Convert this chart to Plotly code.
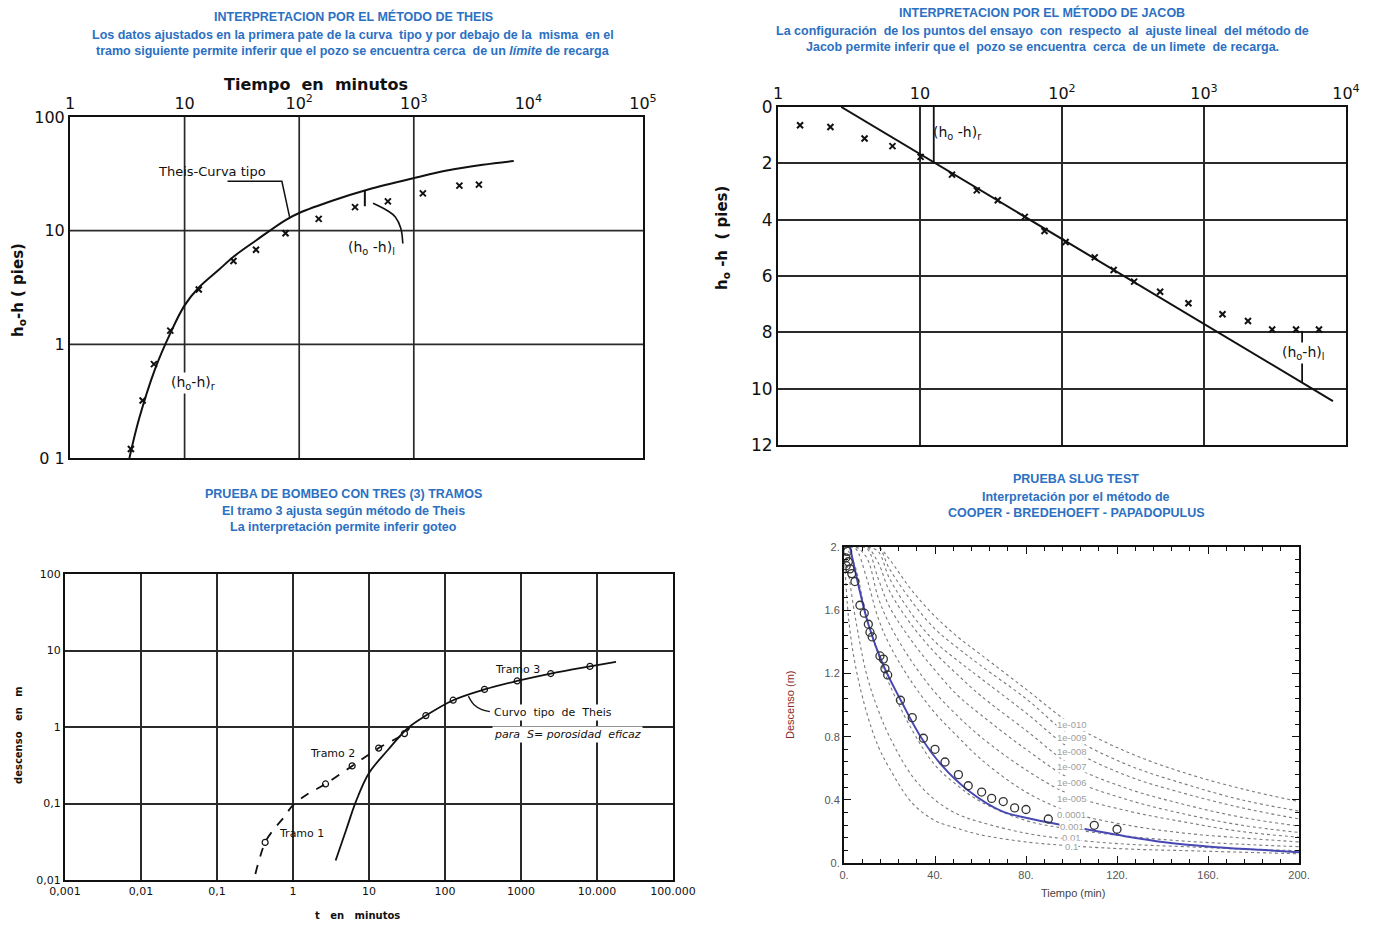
import math
import plotly.graph_objects as go

W, H = 1376, 927

# ---------------- Panel 1: Theis ----------------
theis_obs_t = [3.4, 4.3, 5.4, 7.5, 13.3, 26.7, 42, 76, 148, 307, 594, 1200, 2500, 3700]
theis_obs_s = [0.12, 0.32, 0.67, 1.32, 3.04, 5.4, 6.8, 9.5, 12.7, 16.1, 18.1, 21.3, 24.9, 25.4]
theis_curve_t = [3.3, 4.0, 5.5, 7.5, 10, 13.3, 20, 26.7, 42, 76, 100, 200, 400, 1000, 2000, 4000, 7450]
theis_curve_s = [0.1, 0.22, 0.6, 1.25, 2.2, 3.16, 4.55, 5.9, 8.2, 12.4, 14.3, 18.5, 23, 29, 34, 38, 41]
theis_xticks = [1, 10, 100, 1000, 10000, 100000]
theis_xtext = ['1', '10', '10<sup>2</sup>', '10<sup>3</sup>', '10<sup>4</sup>', '10<sup>5</sup>']
theis_yticks = [0.1, 1, 10, 100]
theis_ytext = ['0 1', '1', '10', '100']
theis_grid_t = [10, 100, 1000]
theis_grid_s = [1, 10]
theis_leader_t = [23.7, 70.6, 82.4]
theis_leader_s = [27.2, 27.2, 13.2]
theis_arrow_t = [802, 770, 690, 595, 441]
theis_arrow_s = [7.7, 10.5, 13.2, 14.9, 17.4]
theis_diff_t = [374, 374]
theis_diff_s = [22.5, 16.4]

# ---------------- Panel 2: Jacob ----------------
jacob_obs_t = [1.43, 2.34, 4.07, 6.4, 10.1, 16.8, 25.1, 35.3, 54.7, 75.3, 106, 170, 231, 322,
               491, 777, 1350, 2040, 3020, 4450, 6450]
jacob_obs_s = [0.65, 0.71, 1.12, 1.39, 1.77, 2.40, 2.96, 3.31, 3.9, 4.4, 4.79, 5.34, 5.79, 6.2,
               6.56, 6.97, 7.36, 7.6, 7.9, 7.9, 7.9]
jacob_fit_t = [2.79, 8090]
jacob_fit_s = [0, 10.44]
jacob_xticks = [1, 10, 100, 1000, 10000]
jacob_xtext = ['1', '10', '10<sup>2</sup>', '10<sup>3</sup>', '10<sup>4</sup>']
jacob_yticks = [0, 2, 4, 6, 8, 10, 12]
jacob_diff_r_t = [12.5, 12.5]
jacob_diff_r_s = [0, 2.0]
jacob_diff_l_t = [4910, 4910]
jacob_diff_l_s = [7.95, 9.79]

# ---------------- Panel 3: Bombeo (tres tramos) ----------------
bombeo_obs_t = [0.43, 2.68, 6.0, 13.4, 29.3, 56, 128, 331, 890, 2460, 8070]
bombeo_obs_s = [0.031, 0.18, 0.31, 0.53, 0.82, 1.41, 2.24, 3.1, 4.0, 5.0, 6.2]
bombeo_dash_t = [0.32, 0.43, 0.55, 0.75, 1.0, 1.6, 2.68, 6.0, 13.4, 29.3, 34]
bombeo_dash_s = [0.012, 0.031, 0.045, 0.065, 0.095, 0.135, 0.18, 0.31, 0.53, 0.82, 0.97]
bombeo_theis_t = [3.64, 5.0, 6.7, 10, 17.7, 32.5, 56, 128, 331, 890, 2460, 8070, 17800]
bombeo_theis_s = [0.018, 0.045, 0.105, 0.25, 0.50, 0.97, 1.41, 2.24, 3.1, 4.0, 5.0, 6.2, 7.1]
bombeo_leader_t = [203, 239, 305, 389]
bombeo_leader_s = [2.53, 1.97, 1.69, 1.59]
bombeo_xticks = [0.001, 0.01, 0.1, 1, 10, 100, 1000, 10000, 100000]
bombeo_xtext = ['0,001', '0,01', '0,1', '1', '10', '100', '1000', '10.000', '100.000']
bombeo_yticks = [0.01, 0.1, 1, 10, 100]
bombeo_ytext = ['0,01', '0,1', '1', '10', '100']

# ---------------- Panel 4: Slug test ----------------
slug_obs_t = [0.8, 1.0, 1.6, 1.9, 2.6, 3.4, 4.8, 7.0, 8.9, 10.7, 11.4, 12.4, 15.8, 17.3, 18.0,
              19.2, 24.8, 30, 34.9, 40, 44.4, 50.3, 54.6, 60.5, 64.9, 70, 75, 80, 89.8, 100.8,
              110, 120]
slug_obs_s = [1.93, 1.88, 1.97, 1.905, 1.86, 1.83, 1.78, 1.63, 1.58, 1.51, 1.46, 1.43, 1.31,
              1.29, 1.23, 1.19, 1.03, 0.92, 0.79, 0.72, 0.64, 0.56, 0.49, 0.45, 0.41, 0.39,
              0.35, 0.34, 0.28, 0.26, 0.24, 0.215]
slug_fit_t = [2.6, 6.3, 10.7, 17.3, 25.3, 34.1, 42.9, 54.6, 69.3, 84, 98.6, 110, 124, 140, 161,
              183, 200]
slug_fit_s = [2.0, 1.76, 1.51, 1.25, 1.02, 0.79, 0.62, 0.46, 0.33, 0.275, 0.235, 0.205, 0.17,
              0.135, 0.105, 0.085, 0.07]
type_t = [0, 2, 5, 10, 15, 20, 30, 40, 50, 60, 80, 100, 125, 150, 175, 200]
type_names = ['1e-010', '1e-009', '1e-008', '1e-007', '1e-006', '1e-005', '0.0001', '0.001',
              '0.01', '0.1']
type_1e10 = [2.0, 2.0, 2.0, 2.0, 2.0, 1.92, 1.72, 1.56, 1.43, 1.32, 1.10, 0.88, 0.70, 0.57, 0.47, 0.39]
type_1e9 = [2.0, 2.0, 2.0, 2.0, 2.0, 1.86, 1.65, 1.48, 1.36, 1.25, 1.04, 0.80, 0.62, 0.50, 0.40, 0.33]
type_1e8 = [2.0, 2.0, 2.0, 2.0, 1.97, 1.80, 1.57, 1.40, 1.28, 1.17, 0.95, 0.72, 0.55, 0.44, 0.35, 0.28]
type_1e7 = [2.0, 2.0, 2.0, 2.0, 1.90, 1.72, 1.50, 1.33, 1.19, 1.06, 0.84, 0.62, 0.47, 0.37, 0.29, 0.235]
type_1e6 = [2.0, 2.0, 2.0, 1.99, 1.80, 1.62, 1.40, 1.22, 1.06, 0.94, 0.72, 0.53, 0.40, 0.31, 0.24, 0.195]
type_1e5 = [2.0, 2.0, 2.0, 1.93, 1.68, 1.51, 1.27, 1.08, 0.93, 0.80, 0.59, 0.43, 0.33, 0.26, 0.20, 0.165]
type_1e4 = [2.0, 2.0, 1.99, 1.80, 1.55, 1.38, 1.14, 0.95, 0.80, 0.66, 0.45, 0.32, 0.24, 0.19, 0.16, 0.135]
type_1e3 = [2.0, 1.97, 1.87, 1.55, 1.32, 1.13, 0.84, 0.62, 0.49, 0.39, 0.27, 0.215, 0.17, 0.14, 0.12, 0.105]
type_1e2 = [2.0, 1.83, 1.55, 1.19, 0.97, 0.80, 0.55, 0.40, 0.31, 0.26, 0.19, 0.15, 0.12, 0.105, 0.09, 0.08]
type_1e1 = [2.0, 1.55, 1.25, 0.95, 0.74, 0.60, 0.38, 0.27, 0.22, 0.18, 0.135, 0.11, 0.09, 0.08, 0.07, 0.06]
type_label_t = 100
type_label_s = [0.874, 0.796, 0.705, 0.61, 0.51, 0.41, 0.31, 0.23, 0.165, 0.105]
slug_xticks = [0, 40, 80, 120, 160, 200]
slug_xtext = ['0.', '40.', '80.', '120.', '160.', '200.']
slug_yticks = [0, 0.4, 0.8, 1.2, 1.6, 2.0]
slug_ytext = ['0.', '0.4', '0.8', '1.2', '1.6', '2.']

# ---------------- styling ----------------
BLUE = '#2c70c2'
TFONT = 'Liberation Sans, Arial, sans-serif'
HFONT = 'DejaVu Sans, Liberation Sans, sans-serif'
INK = '#111111'
GRID = '#2a2a2a'


def px(x):
    return x / W


def py(y):
    return 1 - y / H


fig = go.Figure()

# Panel 1 gridlines
gx, gy = [], []
for t in theis_grid_t:
    gx += [t, t, None]
    gy += [theis_yticks[0], theis_yticks[-1], None]
for s in theis_grid_s:
    gx += [theis_xticks[0], theis_xticks[-1], None]
    gy += [s, s, None]
fig.add_trace(go.Scatter(x=gx, y=gy, mode='lines', line=dict(color=GRID, width=1.7),
                         xaxis='x', yaxis='y', hoverinfo='skip'))
fig.add_trace(go.Scatter(x=theis_curve_t, y=theis_curve_s, mode='lines',
                         line=dict(color=INK, width=2, shape='spline'), xaxis='x', yaxis='y'))
fig.add_trace(go.Scatter(x=theis_obs_t, y=theis_obs_s, mode='markers',
                         marker=dict(symbol='x-thin', size=6, line=dict(color=INK, width=2)),
                         xaxis='x', yaxis='y'))
fig.add_trace(go.Scatter(x=theis_leader_t, y=theis_leader_s, mode='lines',
                         line=dict(color=INK, width=1.5), xaxis='x', yaxis='y'))
fig.add_trace(go.Scatter(x=theis_arrow_t, y=theis_arrow_s, mode='lines',
                         line=dict(color=INK, width=1.6, shape='spline'), xaxis='x', yaxis='y'))
fig.add_trace(go.Scatter(x=theis_diff_t, y=theis_diff_s, mode='lines',
                         line=dict(color=INK, width=2), xaxis='x', yaxis='y'))

# Panel 2
fig.add_trace(go.Scatter(x=jacob_fit_t, y=jacob_fit_s, mode='lines',
                         line=dict(color=INK, width=2), xaxis='x2', yaxis='y2'))
fig.add_trace(go.Scatter(x=jacob_obs_t, y=jacob_obs_s, mode='markers',
                         marker=dict(symbol='x-thin', size=6, line=dict(color=INK, width=2)),
                         xaxis='x2', yaxis='y2'))
fig.add_trace(go.Scatter(x=jacob_diff_r_t, y=jacob_diff_r_s, mode='lines',
                         line=dict(color=INK, width=1.8), xaxis='x2', yaxis='y2'))
fig.add_trace(go.Scatter(x=jacob_diff_l_t, y=jacob_diff_l_s, mode='lines',
                         line=dict(color=INK, width=1.8), xaxis='x2', yaxis='y2'))

# Panel 3
fig.add_trace(go.Scatter(x=bombeo_dash_t, y=bombeo_dash_s, mode='lines',
                         line=dict(color=INK, width=1.8, dash='dash', shape='spline'),
                         xaxis='x3', yaxis='y3'))
fig.add_trace(go.Scatter(x=bombeo_theis_t, y=bombeo_theis_s, mode='lines',
                         line=dict(color=INK, width=1.8, shape='spline'), xaxis='x3', yaxis='y3'))
fig.add_trace(go.Scatter(x=bombeo_obs_t, y=bombeo_obs_s, mode='markers',
                         marker=dict(symbol='circle-open', size=6, color=INK, line=dict(width=1.2)),
                         xaxis='x3', yaxis='y3'))
fig.add_trace(go.Scatter(x=bombeo_leader_t, y=bombeo_leader_s, mode='lines',
                         line=dict(color=INK, width=1.3, shape='spline'), xaxis='x3', yaxis='y3'))

# Panel 4
type_curves = [type_1e10, type_1e9, type_1e8, type_1e7, type_1e6, type_1e5, type_1e4,
               type_1e3, type_1e2, type_1e1]
for name, vals in zip(type_names, type_curves):
    fig.add_trace(go.Scatter(x=type_t, y=vals, mode='lines', name=name,
                             line=dict(color='#7a7a7a', width=1.1, dash='dot', shape='spline'),
                             xaxis='x4', yaxis='y4'))
fig.add_trace(go.Scatter(x=slug_fit_t, y=slug_fit_s, mode='lines',
                         line=dict(color='#4848b4', width=2, shape='spline'), xaxis='x4', yaxis='y4'))
fig.add_trace(go.Scatter(x=slug_obs_t, y=slug_obs_s, mode='markers',
                         marker=dict(symbol='circle-open', size=8, color='#333333',
                                     line=dict(width=1.3)),
                         xaxis='x4', yaxis='y4'))

frame = dict(showline=True, mirror=True, linecolor=INK, linewidth=2, zeroline=False,
             automargin=False)

layout = dict(
    width=W, height=H, margin=dict(l=0, r=0, t=0, b=0, autoexpand=False),
    paper_bgcolor='white', plot_bgcolor='white', showlegend=False,
    xaxis=dict(domain=[px(70), px(643)], anchor='y', type='log', range=[0, 5], side='top',
               tickvals=theis_xticks, ticktext=theis_xtext, showgrid=False, ticks='',
               tickfont=dict(family=HFONT, size=16, color=INK), **frame),
    yaxis=dict(domain=[py(458), py(117)], anchor='x', type='log', range=[-1, 2],
               tickvals=theis_yticks, ticktext=theis_ytext, showgrid=False, ticks='',
               tickfont=dict(family=HFONT, size=16, color=INK), **frame),
    xaxis2=dict(domain=[px(778), px(1346)], anchor='y2', type='log', range=[0, 4], side='top',
                tickvals=jacob_xticks, ticktext=jacob_xtext, showgrid=True, gridcolor=GRID,
                gridwidth=1.7, ticks='', tickfont=dict(family=HFONT, size=16, color=INK), **frame),
    yaxis2=dict(domain=[py(445), py(107)], anchor='x2', range=[12, 0], tickvals=jacob_yticks,
                showgrid=True, gridcolor=GRID, gridwidth=1.7, ticks='',
                tickfont=dict(family=HFONT, size=17, color=INK), **frame),
    xaxis3=dict(domain=[px(65), px(673)], anchor='y3', type='log', range=[-3, 5],
                tickvals=bombeo_xticks, ticktext=bombeo_xtext, showgrid=True, gridcolor=GRID,
                gridwidth=1.8, ticks='', tickfont=dict(family=HFONT, size=11, color=INK), **frame),
    yaxis3=dict(domain=[py(880), py(574)], anchor='x3', type='log', range=[-2, 2],
                tickvals=bombeo_yticks, ticktext=bombeo_ytext, showgrid=True, gridcolor=GRID,
                gridwidth=1.8, ticks='', tickfont=dict(family=HFONT, size=11, color=INK), **frame),
    xaxis4=dict(domain=[px(844), px(1299)], anchor='y4', range=[0, 200], tickvals=slug_xticks,
                ticktext=slug_xtext, showgrid=False, ticks='inside', ticklen=7, tickwidth=1.3,
                tickcolor=INK, minor=dict(dtick=8, ticks='inside', ticklen=4, tickcolor=INK),
                tickfont=dict(family=TFONT, size=11, color='#555555'), automargin=False,
                showline=True, mirror='allticks', linecolor=INK, linewidth=2, zeroline=False),
    yaxis4=dict(domain=[py(863.3), py(546.7)], anchor='x4', range=[0, 2], tickvals=slug_yticks,
                ticktext=slug_ytext, showgrid=False, ticks='inside', ticklen=7, tickwidth=1.3,
                tickcolor=INK, minor=dict(dtick=0.08, ticks='inside', ticklen=4, tickcolor=INK),
                tickfont=dict(family=TFONT, size=11, color='#555555'), automargin=False,
                showline=True, mirror='allticks', linecolor=INK, linewidth=2, zeroline=False),
)
fig.update_layout(**layout)

anns = []


def title(x, y, text, size=12.5):
    anns.append(dict(x=px(x), y=py(y), xref='paper', yref='paper', text='<b>' + text + '</b>',
                     showarrow=False, font=dict(family=TFONT, size=size, color=BLUE),
                     xanchor='center', yanchor='middle'))


title(353, 17, 'INTERPRETACION POR EL MÉTODO DE THEIS')
title(353, 35, 'Los datos ajustados en la primera pate de la curva  tipo y por debajo de la  misma  en el')
title(353, 51, 'tramo siguiente permite inferir que el pozo se encuentra cerca  de un <i>límite</i> de recarga')
title(1042, 13, 'INTERPRETACION POR EL MÉTODO DE JACOB')
title(1042, 31, 'La configuración  de los puntos del ensayo  con  respecto  al  ajuste lineal  del método de')
title(1042, 47, 'Jacob permite inferir que el  pozo se encuentra  cerca  de un limete  de recarga.')
title(343, 494, 'PRUEBA DE BOMBEO CON TRES (3) TRAMOS')
title(343, 511, 'El tramo 3 ajusta según método de Theis')
title(343, 527, 'La interpretación permite inferir goteo')
title(1076, 479, 'PRUEBA SLUG TEST')
title(1076, 497, 'Interpretación por el método de')
title(1076, 513, 'COOPER - BREDEHOEFT - PAPADOPULUS')


def ptext(x, y, text, size, angle=0, color=INK, family=HFONT):
    anns.append(dict(x=px(x), y=py(y), xref='paper', yref='paper', text=text, showarrow=False,
                     textangle=angle, font=dict(family=family, size=size, color=color),
                     xanchor='center', yanchor='middle'))


ptext(316, 84, '<b>Tiempo  en  minutos</b>', 16)
ptext(18, 290, '<b>h<sub>o</sub>-h ( pies)</b>', 15, angle=-90)
ptext(722, 238, '<b>h<sub>o</sub> -h  ( pies)</b>', 15, angle=-90)
ptext(18, 735, '<b>descenso   en   m</b>', 10, angle=-90)
ptext(357, 915, '<b>t   en   minutos</b>', 10)
ptext(1073, 893, 'Tiempo (min)', 11, color='#444444', family=TFONT)
ptext(790, 705, 'Descenso (m)', 11, angle=-90, color='#8b2a2a', family=TFONT)


def dtext(xr, yr, t, s, text, size, logx=True, logy=True, anchor='center', bg=None):
    a = dict(x=math.log10(t) if logx else t, y=math.log10(s) if logy else s, xref=xr, yref=yr,
             text=text, showarrow=False, font=dict(family=HFONT, size=size, color=INK),
             xanchor=anchor, yanchor='middle')
    if bg:
        a['bgcolor'] = bg
    anns.append(a)


dtext('x', 'y', 17.2, 32.9, 'Theis-Curva tipo', 13)
dtext('x', 'y', 424, 7.1, '(h<sub>o</sub> -h)<sub>l</sub>', 14)
dtext('x', 'y', 12, 0.46, '(h<sub>o</sub>-h)<sub>r</sub>', 14, bg='white')
dtext('x2', 'y2', 18.5, 0.91, '(h<sub>o</sub> -h)<sub>r</sub>', 14, logy=False)
dtext('x2', 'y2', 4990, 8.72, '(h<sub>o</sub>-h)<sub>l</sub>', 14, logy=False, bg='white')
dtext('x3', 'y3', 890, 5.7, 'Tramo 3', 11)
dtext('x3', 'y3', 3.3, 0.45, 'Tramo 2', 11)
dtext('x3', 'y3', 1.3, 0.041, 'Tramo 1', 11)
dtext('x3', 'y3', 414, 1.54, 'Curvo  tipo  de  Theis', 11, anchor='left', bg='white')
dtext('x3', 'y3', 414, 0.79, '<i>para  S= porosidad  eficaz</i>', 11, anchor='left', bg='white')

for name, s in zip(type_names, type_label_s):
    anns.append(dict(x=type_label_t, y=s, xref='x4', yref='y4', text=name, showarrow=False,
                     font=dict(family=TFONT, size=9.5, color='#a0a0a0'), bgcolor='white',
                     xanchor='center', yanchor='middle', borderpad=0))

fig.update_layout(annotations=anns)
fig.write_html('out.html', config={'displayModeBar': False},
               post_script="document.body.style.margin='0';")
